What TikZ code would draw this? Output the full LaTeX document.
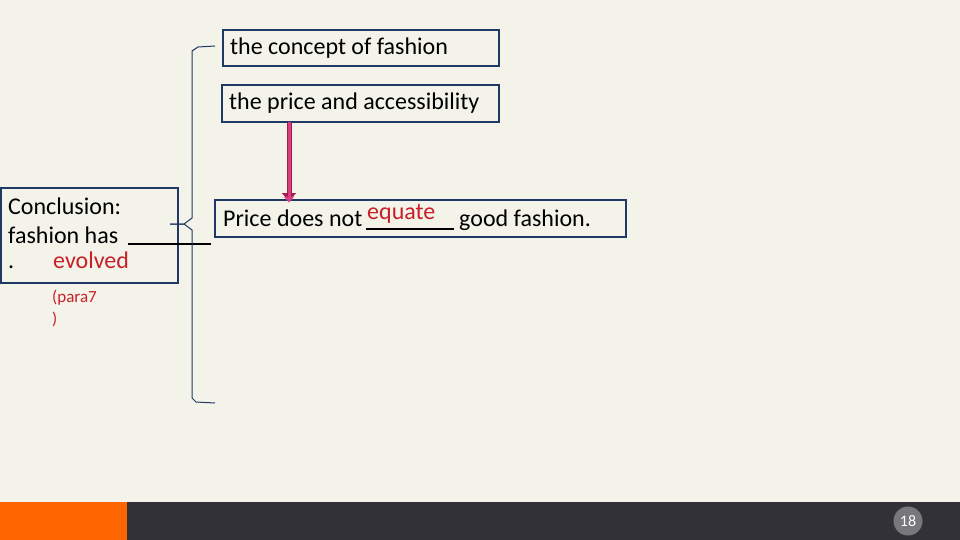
\documentclass[tikz,border=0pt]{standalone}
\usepackage{fontspec}
\setmainfont{Carlito}
\usetikzlibrary{shapes,arrows.meta,positioning}
\definecolor{slidebg}{RGB}{243,243,233}
\definecolor{boxline}{RGB}{31,56,100}
\definecolor{answer}{RGB}{200,32,40}
\definecolor{pinkarrow}{RGB}{222,60,128}
\definecolor{pinkdark}{RGB}{160,30,80}
\definecolor{barorange}{RGB}{255,102,0}
\definecolor{bardark}{RGB}{50,49,55}
\definecolor{pagecircle}{RGB}{120,120,124}
\tikzstyle{Box} = [draw=boxline, line width=2.2pt, rectangle, inner sep=0pt]
\tikzstyle{Text} = [inner sep=0pt, anchor=base west, font=\fontsize{24}{29}\selectfont]
\tikzstyle{Answer} = [Text, text=answer]
\tikzstyle{Small} = [inner sep=0pt, anchor=base west, text=answer, font=\fontsize{17}{22}\selectfont]
\tikzstyle{Blank} = [line width=1.6pt, black]

\begin{document}
\begin{tikzpicture}[x=1pt, y=-1pt]
    \fill[slidebg] (0,0) rectangle (960,540);
    \useasboundingbox (0,0) rectangle (960,540);

    % boxes
    \node[Box, minimum width=276pt, minimum height=36pt, anchor=north west] (b_concept) at (222,29) {};
    \node[Box, minimum width=277pt, minimum height=37pt, anchor=north west] (b_price)   at (221,84) {};
    \node[Box, minimum width=177pt, minimum height=95pt, anchor=north west] (b_conclusion) at (0,187) {};
    \node[Box, minimum width=411pt, minimum height=37pt, anchor=north west] (b_equate)  at (214,199) {};

    % texts
    \node[Text] (t_concept) at (230,55)  {the concept of fashion};
    \node[Text] (t_price)   at (229,110) {the price and accessibility};
    \node[Text] (t_conc1)   at (8,214)   {Conclusion:};
    \node[Text] (t_conc2)   at (8,243)   {fashion has};
    \node[Text] (t_dot)     at (8,268)   {.};
    \node[Answer] (a_evolved) at (53,268) {evolved};
    \node[Small] (t_para1)  at (52,302)  {(para7};
    \node[Small] (t_para2)  at (52,324)  {)};
    \node[Text] (t_not)     at (223,226) {Price does not};
    \node[Answer] (a_equate) at (367,219) {equate};
    \node[Text] (t_good)    at (459,226) {good fashion.};

    % blanks
    \coordinate (u1a) at (128,244);
    \coordinate (u1b) at (211,244);
    \coordinate (u2a) at (366,229);
    \coordinate (u2b) at (454,229);
    \draw[Blank] (u1a) -- (u1b);
    \draw[Blank] (u2a) -- (u2b);

    % arrow
    \draw[pinkdark, line width=5pt, -{Triangle[length=8pt,width=14pt]}] (b_price.south -| 289,0) -- ([yshift=-2pt]b_equate.north -| 289,0);
    \draw[pinkarrow, line width=3pt, -{Triangle[length=6pt,width=10pt]}] ([yshift=1pt]b_price.south -| 289,0) -- ([yshift=-3.5pt]b_equate.north -| 289,0);

    % bracket
    \coordinate (br_top) at (215,46);
    \coordinate (br_tip) at (170,224);
    \coordinate (br_bot) at (215,403);
    \draw[boxline, line width=1pt] (br_top) -- (198,47) -- (192,51) -- (192,218) -- (184,224) -- (br_tip);
    \draw[boxline, line width=1pt] (br_tip) -- (184,224) -- (192,230) -- (192,398) -- (196,402) -- (br_bot);

    % footer
    \fill[bardark] (0,502) rectangle (960,540);
    \fill[barorange] (0,502) rectangle (127,540);
    \node[circle, fill=pagecircle, minimum size=29pt, inner sep=0pt, text=white, font=\fontsize{16}{18}\selectfont] (pagenum) at (908,521) {18};
\end{tikzpicture}
\end{document}
